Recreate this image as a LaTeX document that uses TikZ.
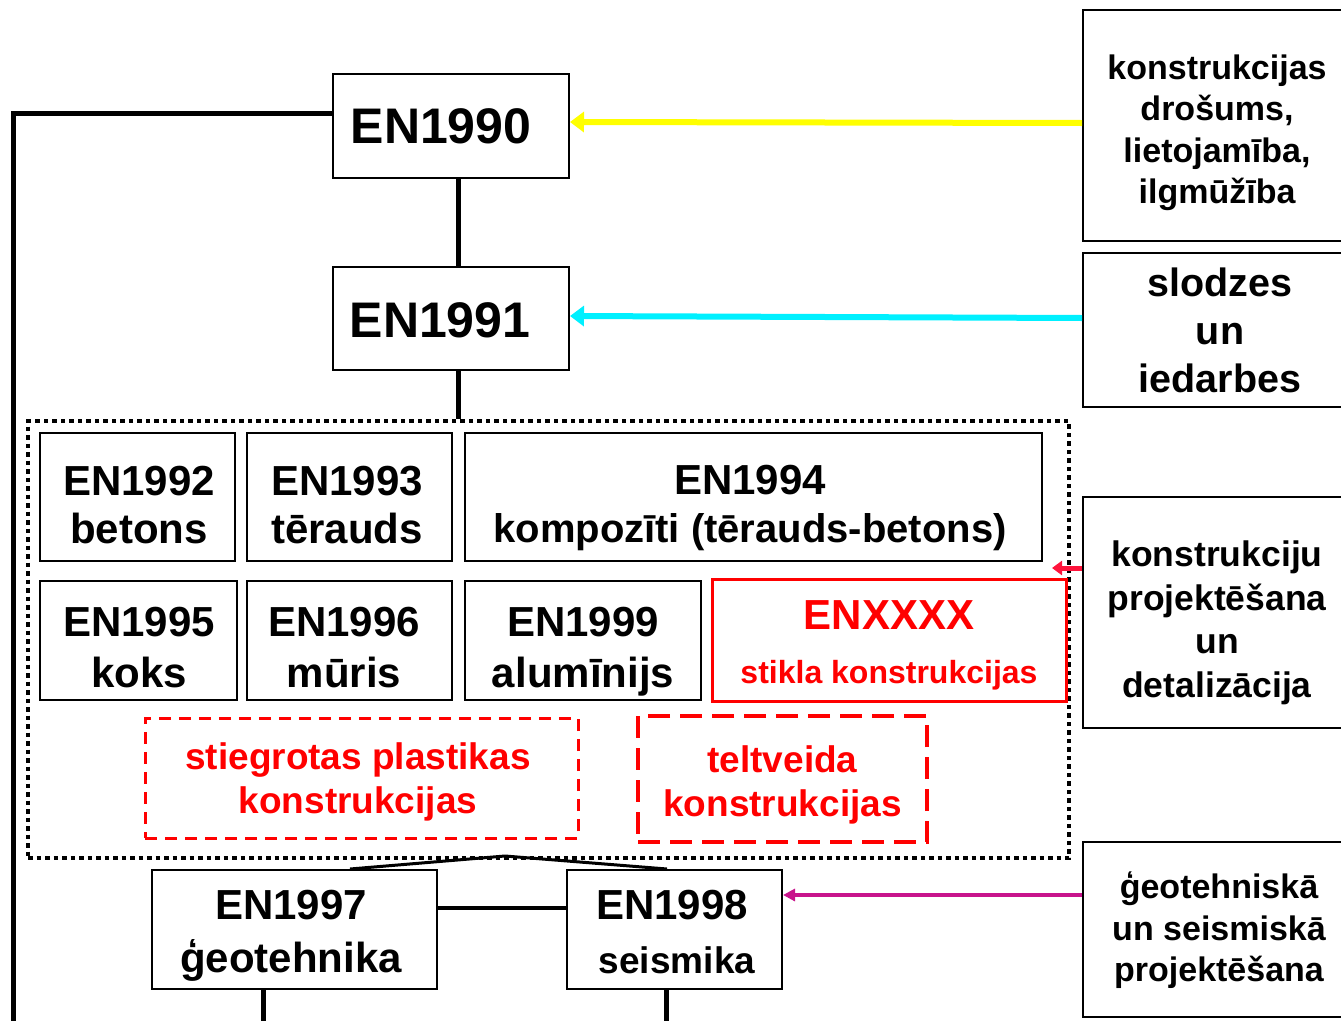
\documentclass[tikz,border=0pt]{standalone}
\usepackage{fontspec}
\setmainfont{Liberation Sans}
\usetikzlibrary{arrows.meta,calc}
\definecolor{magarrow}{RGB}{200,20,140}
\definecolor{redarrow}{RGB}{255,20,60}
\definecolor{yel}{RGB}{255,255,0}
\definecolor{cya}{RGB}{0,240,255}
\tikzset{
  bx/.style={draw, line width=2pt, inner sep=0pt},
  rbx/.style={bx, draw=red, line width=3pt},
  txt/.style={inner sep=0pt, align=center, font=\bfseries\fontsize{42}{48}\selectfont},
  rtxt/.style={txt, text=red},
  fat/.style={line width=6pt, -{Triangle[length=14pt,width=20pt]}}
}
\begin{document}
\begin{tikzpicture}[x=1pt,y=-1pt]
\useasboundingbox (0,0) rectangle (1341,1020);
\clip (0,0) rectangle (1341,1020);
% main boxes
\node[bx, minimum width=236, minimum height=104] (e90) at (451,126) {};
\node[txt, font=\bfseries\fontsize{50}{56}\selectfont] (e90t) at (441,126) {EN1990};
\node[bx, minimum width=236, minimum height=103] (e91) at (451,318) {};
\node[txt, font=\bfseries\fontsize{50}{56}\selectfont] (e91t) at (440,320) {EN1991};
% dotted frame
\node[draw, line width=4.5pt, dash pattern=on 4.5pt off 4pt, minimum width=1041, minimum height=437, inner sep=0pt] (dots) at (548.5,639.5) {};
\node[bx, minimum width=195, minimum height=128] (e92) at (137.5,497) {};
\node[txt] (e92t) at (139,505) {EN1992\\betons};
\node[bx, minimum width=205, minimum height=128] (e93) at (349.5,497) {};
\node[txt] (e93t) at (347,505) {EN1993\\tērauds};
\node[bx, minimum width=577, minimum height=128] (e94) at (753.5,497) {};
\node[txt] (e94t) at (750,508) {EN1994\\{\fontsize{40}{48}\selectfont kompozīti (tērauds-betons)}};
\node[bx, minimum width=197, minimum height=119] (e95) at (138.5,640.5) {};
\node[txt, font=\bfseries\fontsize{42}{51}\selectfont] (e95t) at (139,648) {EN1995\\koks};
\node[bx, minimum width=205, minimum height=119] (e96) at (349.5,640.5) {};
\node[txt, font=\bfseries\fontsize{42}{51}\selectfont] (e96t) at (344,648) {EN1996\\mūris};
\node[bx, minimum width=236, minimum height=119] (e99) at (583,640.5) {};
\node[txt, font=\bfseries\fontsize{42}{51}\selectfont] (e99t) at (583,652) {EN1999\\alumīnijs};
\node[rbx, minimum width=354, minimum height=122] (exx) at (889,640) {};
\node[rtxt] (exxt) at (889,645) {ENXXXX\\[6pt]{\fontsize{32}{36}\selectfont stikla konstrukcijas}};
\node[bx, draw=red, line width=3pt, dash pattern=on 12pt off 8pt, minimum width=433, minimum height=120] (plast) at (361.5,778) {};
\node[rtxt, font=\bfseries\fontsize{37}{44}\selectfont] (plastt) at (358,782) {stiegrotas plastikas\\konstrukcijas};
\node[bx, draw=red, line width=4.5pt, dash pattern=on 22pt off 10pt, minimum width=289, minimum height=126] (telt) at (782.5,779) {};
\node[rtxt, font=\bfseries\fontsize{37}{44}\selectfont] (teltt) at (782.5,785) {teltveida\\konstrukcijas};
\node[bx, minimum width=285, minimum height=119] (e97) at (294.5,929.5) {};
\node[txt, font=\bfseries\fontsize{42}{53}\selectfont] (e97t) at (291,936) {EN1997\\ģeotehnika};
\node[bx, minimum width=215, minimum height=119] (e98) at (674.5,929.5) {};
\node[txt] (e98t) at (672,932) {EN1998\\[6pt]{\fontsize{37}{44}\selectfont\hspace*{10pt}seismika}};
% right boxes
\node[bx, minimum width=268, minimum height=231] (r1) at (1217,125.5) {};
\node[txt, font=\bfseries\fontsize{34}{41.5}\selectfont] (r1t) at (1217,133) {konstrukcijas\\drošums,\\lietojamība,\\ilgmūžība};
\node[bx, minimum width=268, minimum height=154] (r2) at (1217,330) {};
\node[txt, font=\bfseries\fontsize{39.5}{48}\selectfont] (r2t) at (1220,330) {slodzes\\un\\iedarbes};
\node[bx, minimum width=268, minimum height=231] (r3) at (1217,612.5) {};
\node[txt, font=\bfseries\fontsize{35.5}{43.5}\selectfont] (r3t) at (1217,623) {konstrukciju\\projektēšana\\un\\detalizācija};
\node[bx, minimum width=268, minimum height=175] (r4) at (1217,929.5) {};
\node[txt, font=\bfseries\fontsize{34}{41.5}\selectfont] (r4t) at (1219,930.5) {ģeotehniskā\\un seismiskā\\projektēšana};
% connectors
\coordinate (lb) at (13,1030);
\draw[line width=5pt] ([yshift=13pt]e90.west) -| (lb);
\draw[line width=5pt] ([xshift=7pt]e90.south) -- ([xshift=7pt]e91.north);
\draw[line width=5pt] ([xshift=7pt]e91.south) -- ([xshift=7pt]e91.south |- dots.north);
\draw[line width=4pt] ([yshift=21.5pt]e97.east) -- ([yshift=21.5pt]e98.west);
\coordinate (b97) at (263,1030);
\coordinate (b98) at (666,1030);
\draw[line width=5pt] (e97.south -| b97) -- (b97);
\draw[line width=5pt] (e98.south -| b98) -- (b98);
\coordinate (roof) at (505,856);
\draw[line width=3pt] (e97.north -| 350,0) -- (roof) -- (e98.north -| 667,0);
% arrows
\draw[fat, yel] (r1.west |- 0,123) -- (e90.east |- 0,122);
\draw[fat, cya] (r2.west |- 0,318) -- (e91.east |- 0,316);
\coordinate (redtip) at (1052,568);
\draw[line width=5pt, redarrow, -{Triangle[length=10pt,width=14pt]}] (r3.west |- redtip) -- (redtip);
\draw[line width=3.5pt, magarrow, -{Triangle[length=12pt,width=12pt]}] (r4.west |- 0,895) -- (e98.east |- 0,895);
\end{tikzpicture}
\end{document}
